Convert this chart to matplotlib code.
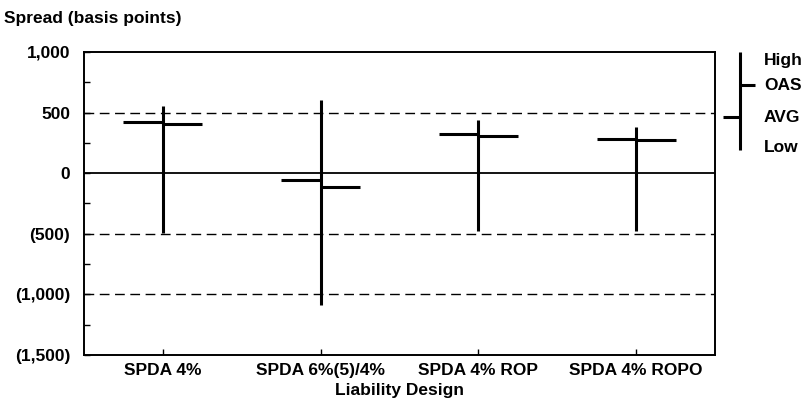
import matplotlib
matplotlib.use("Agg")
import matplotlib.pyplot as plt
from matplotlib.lines import Line2D

plt.rcParams["font.family"] = ["Liberation Sans", "DejaVu Sans"]
plt.rcParams["font.weight"] = "bold"

# data (basis points)
designs = ["SPDA 4%", "SPDA 6%(5)/4%", "SPDA 4% ROP", "SPDA 4% ROPO"]
high = [550, 600, 435, 380]
low = [-490, -1090, -480, -480]
avg = [420, -57, 325, 284]
oas = [407, -117, 309, 270]

yticks = [1000, 500, 0, -500, -1000, -1500]
ytick_labels = ["1,000", "500", "0", "(500)", "(1,000)", "(1,500)"]

FS = 12.5

fig = plt.figure(figsize=(8.11, 4.09), dpi=100)
ax = fig.add_axes([0.1036, 0.132, 0.778, 0.741])

xs = list(range(1, len(designs) + 1))
tick_w = 0.25
for x, h, l, a, o in zip(xs, high, low, avg, oas):
    ax.plot([x, x], [l, h], color="black", lw=2.2, solid_capstyle="butt")
    ax.plot([x - tick_w, x], [a, a], color="black", lw=2.2, solid_capstyle="butt")
    ax.plot([x, x + tick_w], [o, o], color="black", lw=2.2, solid_capstyle="butt")

# gridlines
for g in [500, -500, -1000]:
    ax.axhline(g, color="black", lw=1.0, ls=(0, (7, 4)), zorder=0)
ax.axhline(0, color="black", lw=1.3, zorder=0)

ax.set_xlim(0.5, len(designs) + 0.5)
ax.set_ylim(-1500, 1000)
ax.set_yticks(yticks)
ax.set_yticklabels(ytick_labels, fontsize=FS, fontweight="bold")
ax.set_yticks([750, 250, -250, -750, -1250], minor=True)
ax.set_xticks(xs)
ax.set_xticklabels(designs, fontsize=FS, fontweight="bold")
ax.tick_params(axis="y", which="both", direction="in", length=4, width=1, pad=10)
ax.tick_params(axis="x", direction="in", length=4, width=1, pad=6)
for s in ax.spines.values():
    s.set_linewidth(1.4)

ax.set_xlabel("Liability Design", fontsize=FS, fontweight="bold", labelpad=3)
fig.text(0.005, 0.955, "Spread (basis points)", fontsize=FS, fontweight="bold",
         ha="left", va="center")

# legend key drawn at right
def fx(px):
    return px / 811

def fy(py):
    return 1 - py / 409

lk = dict(color="black", lw=2.2, solid_capstyle="butt", transform=fig.transFigure)
fig.add_artist(Line2D([fx(740), fx(740)], [fy(52), fy(150)], **lk))
fig.add_artist(Line2D([fx(740), fx(755)], [fy(85), fy(85)], **lk))
fig.add_artist(Line2D([fx(723), fx(740)], [fy(117), fy(117)], **lk))
for lab, py in [("High", 60), ("OAS", 85), ("AVG", 117), ("Low", 148)]:
    fig.text(fx(764), fy(py), lab, fontsize=FS, fontweight="bold",
             ha="left", va="center")

fig.savefig("out.png", dpi=100)
